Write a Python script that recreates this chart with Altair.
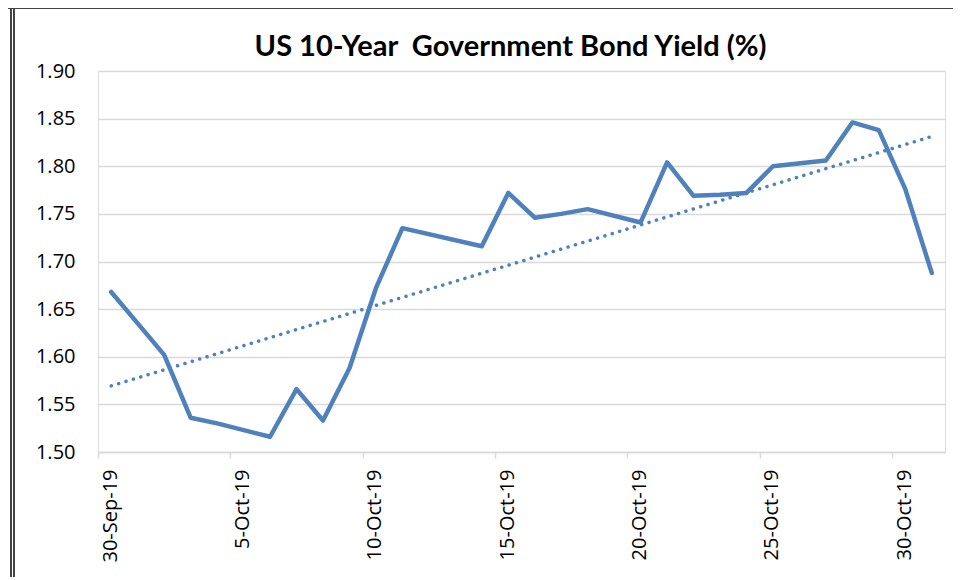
import altair as alt
import pandas as pd

dates = ["2019-09-30", "2019-10-01", "2019-10-02", "2019-10-03", "2019-10-04",
         "2019-10-06", "2019-10-07", "2019-10-08", "2019-10-09", "2019-10-10",
         "2019-10-11", "2019-10-14", "2019-10-15", "2019-10-16", "2019-10-17",
         "2019-10-18", "2019-10-20", "2019-10-21", "2019-10-22", "2019-10-23",
         "2019-10-24", "2019-10-25", "2019-10-27", "2019-10-28", "2019-10-29",
         "2019-10-30", "2019-10-31"]
yields = [1.668, 1.635, 1.602, 1.536, 1.530,
          1.516, 1.566, 1.533, 1.588, 1.672,
          1.735, 1.716, 1.772, 1.746, 1.750,
          1.755, 1.741, 1.804, 1.769, 1.770,
          1.772, 1.800, 1.806, 1.846, 1.838,
          1.776, 1.688]
y_ticks = [1.50, 1.55, 1.60, 1.65, 1.70, 1.75, 1.80, 1.85, 1.90]
x_tick_days = [(9, 30), (10, 5), (10, 10), (10, 15), (10, 20), (10, 25), (10, 30)]

df = pd.DataFrame({"t": [d + "T12:00:00" for d in dates], "y": yields})

BLUE = "#4f81bd"

x_enc = alt.X(
    "t:T",
    scale=alt.Scale(domain=[alt.DateTime(year=2019, month=9, date=30),
                            alt.DateTime(year=2019, month=11, date=1)]),
    axis=alt.Axis(
        values=[alt.DateTime(year=2019, month=m, date=d) for m, d in x_tick_days],
        format="%-d-%b-%y", labelAngle=-90, labelAlign="right",
        labelBaseline="middle", labelOffset=12, labelPadding=11,
        labelFont="Open Sans", labelFontSize=20, labelColor="#000000",
        domainColor="#d9d9d9", domainWidth=1.5, tickColor="#d9d9d9",
        tickWidth=1.5, tickSize=6, grid=False, title=None,
    ),
)
y_enc = alt.Y(
    "y:Q",
    scale=alt.Scale(domain=[1.5, 1.9], nice=False, zero=False),
    axis=alt.Axis(
        values=y_ticks, format=".2f", domain=False, ticks=False,
        labelPadding=23, labelFont="Open Sans", labelFontSize=20,
        labelColor="#000000", gridColor="#d9d9d9", gridWidth=1.5, title=None,
    ),
)

base = alt.Chart(df)

line = base.mark_line(color=BLUE, strokeWidth=4.5, strokeJoin="round",
                      strokeCap="round").encode(x=x_enc, y=y_enc)

trend = base.transform_regression("t", "y").mark_line(
    color=BLUE, strokeWidth=3.5, strokeDash=[0.1, 7.6], strokeCap="round"
).encode(x="t:T", y="y:Q")

frame_left1 = alt.Chart(df).mark_rule(color="#444444", strokeWidth=1).encode(
    x=alt.value(-87), y=alt.value(-63), y2=alt.value(520))
frame_left2 = alt.Chart(df).mark_rule(color="#444444", strokeWidth=1).encode(
    x=alt.value(-84), y=alt.value(-63), y2=alt.value(520))
frame_top = alt.Chart(df).mark_rule(color="#444444", strokeWidth=2).encode(
    x=alt.value(-90), x2=alt.value(865), y=alt.value(-63))

chart = alt.layer(line, trend, frame_left1, frame_left2, frame_top).properties(
    width=847, height=381,
    title=alt.TitleParams("US 10-Year\u00a0 Government Bond Yield (%)",
                          font="Lato", fontSize=29, fontWeight="bold",
                          color="#000000", anchor="middle", offset=16,
                          dy=71, dx=-11, frame="group"),
    autosize=alt.AutoSizeParams(type="none"),
    padding={"left": 90, "top": 63, "right": 8, "bottom": 125},
).configure_view(stroke=None).configure(background="#ffffff")

chart.save("out.html", embed_options={"renderer": "svg", "actions": False})
